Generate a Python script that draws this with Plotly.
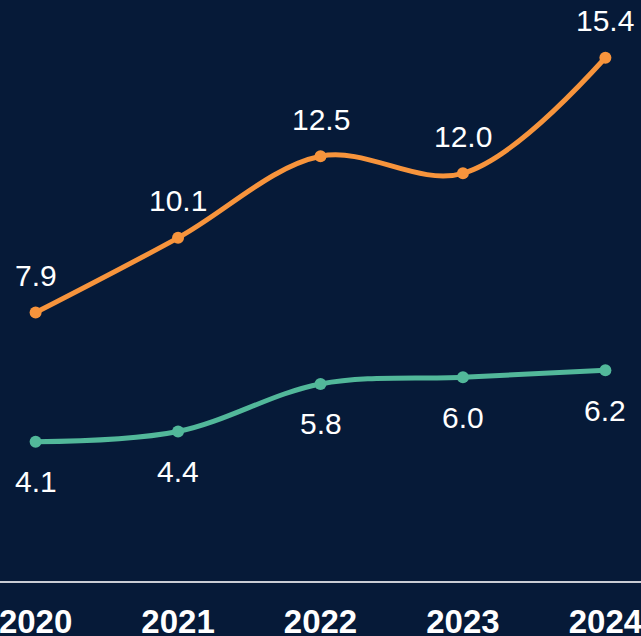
import plotly.graph_objects as go

years = ["2020", "2021", "2022", "2023", "2024"]
orange_vals = [7.9, 10.1, 12.5, 12.0, 15.4]
teal_vals = [4.1, 4.4, 5.8, 6.0, 6.2]

BG = "#061a38"
ORANGE = "#f7943c"
TEAL = "#52b89a"
FONT = "Liberation Sans, Arial, sans-serif"

xpos = list(range(len(years)))

fig = go.Figure()

for vals, color in [(orange_vals, ORANGE), (teal_vals, TEAL)]:
    fig.add_trace(go.Scatter(
        x=xpos, y=vals,
        mode="lines+markers",
        line=dict(color=color, width=5, shape="spline", smoothing=1),
        marker=dict(color=color, size=12),
        hoverinfo="skip",
        showlegend=False,
    ))

# value labels: above the orange line, below the teal one
for i, v in zip(xpos, orange_vals):
    fig.add_annotation(x=i, y=v, xref="x", yref="y", text=f"{v:.1f}",
                       showarrow=False, yshift=37,
                       font=dict(size=30, color="white", family=FONT))
for i, v in zip(xpos, teal_vals):
    fig.add_annotation(x=i, y=v, xref="x", yref="y", text=f"{v:.1f}",
                       showarrow=False, yshift=-40,
                       font=dict(size=30, color="white", family=FONT))

fig.update_layout(
    width=641, height=636,
    paper_bgcolor=BG, plot_bgcolor=BG,
    margin=dict(l=0, r=0, t=0, b=55),
    xaxis=dict(
        range=[-0.25, 4.25],
        tickvals=xpos, ticktext=years,
        showgrid=False, zeroline=False, automargin=False,
        showline=True, linecolor="#c8ccd4", linewidth=2,
        ticks="", ticklabeloverflow="allow",
        tickfont=dict(size=33, color="white", family=FONT, weight="bold"),
        ticklabelstandoff=10,
    ),
    yaxis=dict(range=[0, 17.1], visible=False, showgrid=False, zeroline=False),
)

fig.write_html("out.html", config={"displayModeBar": False},
               post_script="document.body.style.margin='0';")
